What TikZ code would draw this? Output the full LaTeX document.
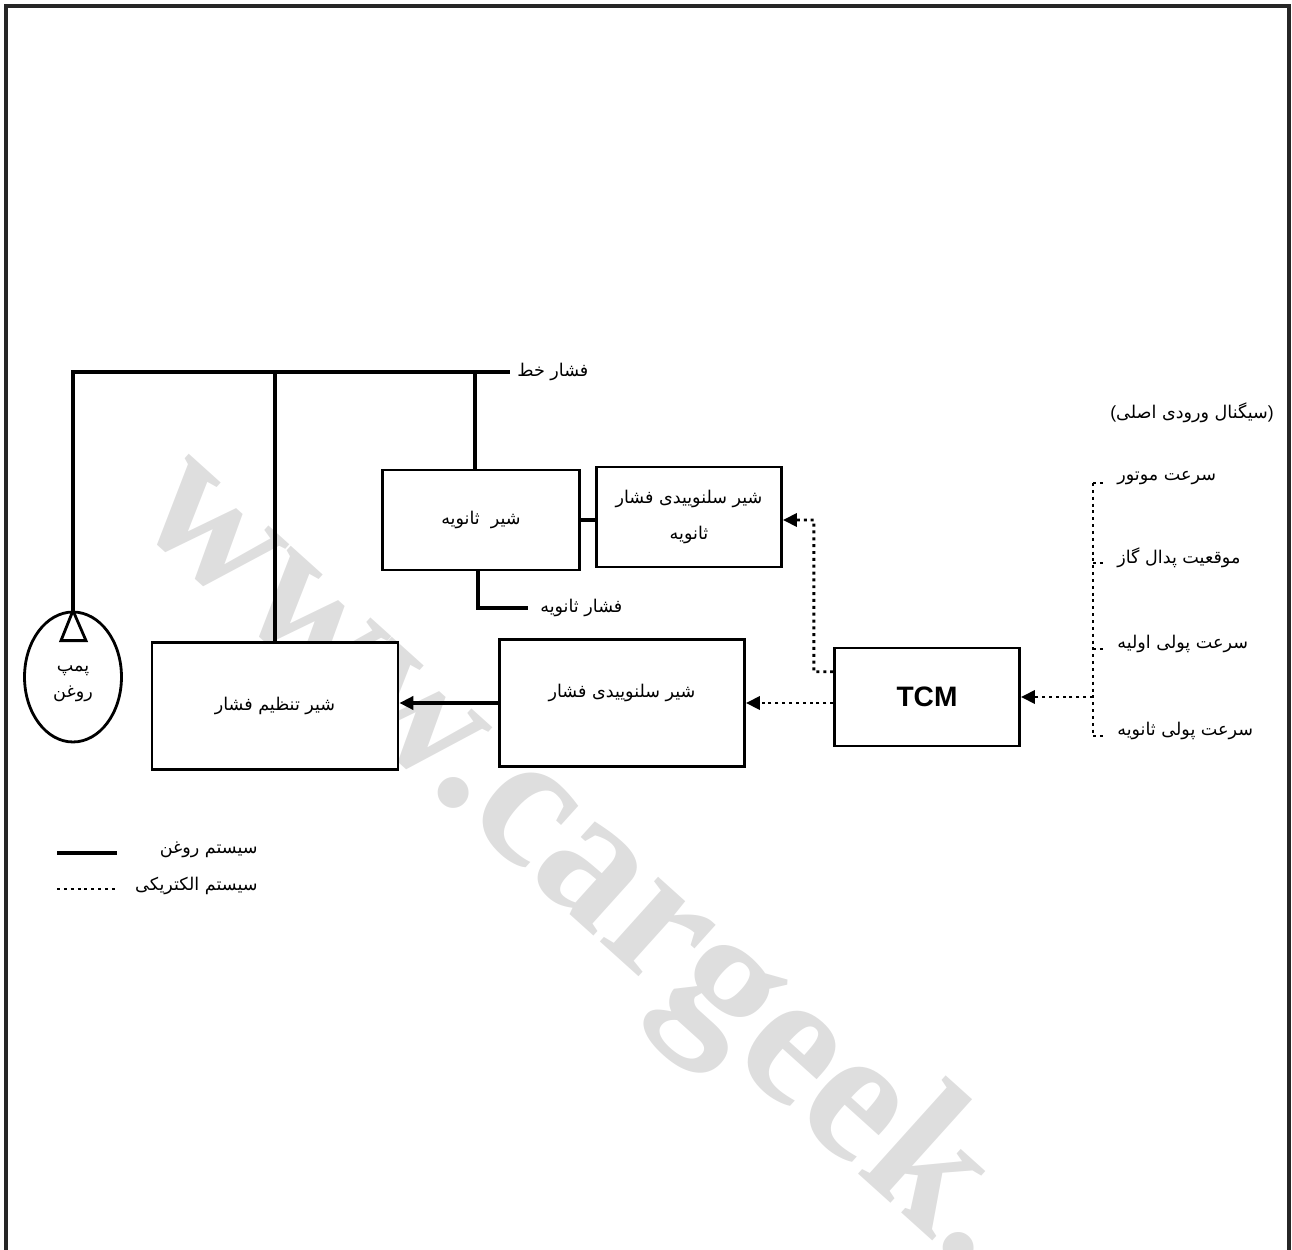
\documentclass[tikz,border=0pt]{standalone}
\usepackage{fontspec}
\usetikzlibrary{arrows.meta, positioning, calc, shapes.geometric}
\TeXXeTstate=1
\newfontfamily\fafont[Script=Arabic]{DejaVu Sans}
\newfontfamily\tcmfont{Liberation Sans}
\newfontfamily\wmfont{Liberation Serif}
\newcommand{\fatext}[1]{\beginR #1\endR}

\begin{document}
\begin{tikzpicture}[
    x=0.02cm, y=-0.02cm,
    box/.style={rectangle, draw, fill=white, line width=1.6pt, inner sep=0pt, align=center, font=\fafont\fontsize{10}{20}\selectfont},
    oil/.style={line width=2.4pt},
    elec/.style={line width=1.6pt, dash pattern=on 1.7pt off 2.2pt},
    head/.style={-{Triangle[length=8pt,width=7.5pt]}},
    lbl/.style={inner sep=0pt, font=\fafont\fontsize{10}{12}\selectfont}
]

\useasboundingbox (0,0) rectangle (1292,1250);

\begin{scope}
\clip (0,0) rectangle (1292,1250);
\node[rotate=-42, anchor=west, inner sep=0pt, text=black!13, font=\wmfont\bfseries\fontsize{108}{108}\selectfont] (watermark) at (160,485) {www.cargeek.};
\end{scope}

\draw[line width=2.2pt, black!85] (6,1250) -- (6,6) -- (1289,6) -- (1289,1250);

\node[box, minimum width=4.92cm, minimum height=2.54cm] (regvalve) at (275,706) {\fatext{شیر تنظیم فشار}};
\node[box, minimum width=3.94cm, minimum height=2cm] (secvalve) at (481,520) {\fatext{شیر\ \ ثانویه}};
\node[box, minimum width=3.7cm, minimum height=2cm] (secsolenoid) at (689,517) {\fatext{شیر سلنوییدی فشار}\\\fatext{ثانویه}};
\node[box, minimum width=4.9cm, minimum height=2.54cm, text depth=0.5cm] (solenoid) at (622,703) {\fatext{شیر سلنوییدی فشار}};
\node[box, minimum width=3.7cm, minimum height=1.96cm, font=\tcmfont\bfseries\fontsize{16}{16}\selectfont] (tcm) at (927,697) {TCM};
\node[box, ellipse, minimum width=1.94cm, minimum height=2.6cm] (pump) at (73,677) {};
\node[lbl, align=center, font=\fafont\fontsize{10}{15}\selectfont] (pumplbl) at ([yshift=-0.13cm]pump.center) {\fatext{پمپ}\\\fatext{روغن}};

\draw[line width=1.6pt] (pump.north) -- ($(pump.north)+(-12,30)$) -- ($(pump.north)+(13,30)$) -- cycle;

\coordinate (lineend) at (510,372);
\draw[oil] (pump.north) |- (lineend);
\draw[oil] (regvalve.north) -- (regvalve.north |- lineend);
\draw[oil] ([xshift=-0.12cm]secvalve.north) -- ([xshift=-0.12cm]secvalve.north |- lineend);
\node[lbl, right=0.14cm of lineend] (linelbl) {\fatext{فشار خط}};

\coordinate (secout) at (528,608);
\draw[oil] ([xshift=-0.06cm]secvalve.south) |- (secout);
\node[lbl, right=0.24cm of secout] (secoutlbl) {\fatext{فشار ثانویه}};

\draw[oil] (secvalve.east) -- (secvalve.east -| secsolenoid.west);
\draw[oil, head] (solenoid.west) -- (solenoid.west -| regvalve.east);
\draw[elec, head] (tcm.west |- solenoid.west) -- (solenoid.west -| solenoid.east);
\draw[elec, head] ($(tcm.north west)!0.25!(tcm.south west)$) -| ($(secsolenoid.east)+(31,3)$) -- ([yshift=-0.06cm]secsolenoid.east);

\node[lbl] (inputlbl) at (1192,413) {{\tcmfont(}\fatext{سیگنال ورودی اصلی}{\tcmfont)}};
\foreach \i/\ypos/\sigtext in {1/483/سرعت موتور, 2/563/موقعیت پدال گاز, 3/649/سرعت پولی اولیه, 4/736/سرعت پولی ثانویه} {
    \coordinate (bus\i) at (1093,\ypos);
    \coordinate (stub\i) at (1104,\ypos);
    \draw[elec] (bus\i) -- (stub\i);
    \node[lbl, anchor=west] (sig\i) at (1117,\ypos-5) {\fatext{\sigtext}};
}
\draw[elec] (bus1) -- (bus4);
\coordinate (tap) at (tcm.east -| bus1);
\draw[elec, head] (tap) -- (tcm.east);

\coordinate (oilA) at (57,853);
\coordinate (oilB) at (117,853);
\draw[oil] (oilA) -- (oilB);
\node[lbl, anchor=east] (oillbl) at (258,850) {\fatext{سیستم روغن}};
\coordinate (elecA) at (57,889);
\coordinate (elecB) at (115,889);
\draw[elec] (elecA) -- (elecB);
\node[lbl, anchor=east] (eleclbl) at (258,886) {\fatext{سیستم الکتریکی}};

\end{tikzpicture}
\end{document}
